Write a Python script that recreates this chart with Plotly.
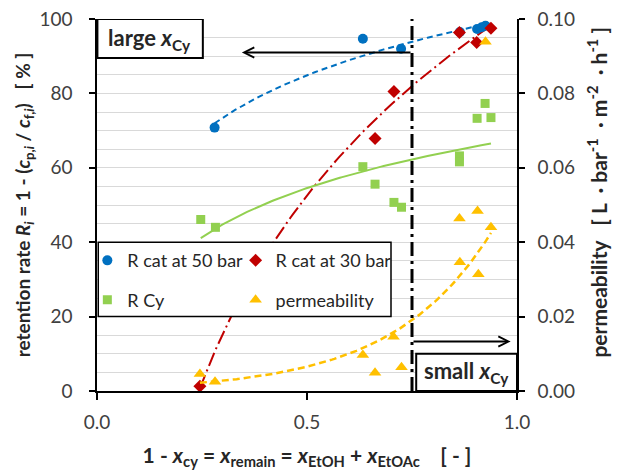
import numpy as np
import plotly.graph_objects as go

# ---- data ----
x_cat50 = [0.280, 0.633, 0.724, 0.864, 0.905, 0.916, 0.925]
R_cat50 = [70.8, 94.7, 92.0, 96.5, 97.3, 97.8, 98.2]

x_cat30 = [0.245, 0.662, 0.707, 0.863, 0.904, 0.938]
R_cat30 = [1.3, 67.9, 80.5, 96.4, 93.7, 97.5]

x_cy = [0.247, 0.282, 0.633, 0.662, 0.707, 0.725, 0.863, 0.863, 0.905, 0.924, 0.938]
R_cy = [46.1, 44.0, 60.3, 55.6, 50.7, 49.4, 63.2, 61.6, 73.3, 77.3, 73.5]

x_perm = [0.245, 0.281, 0.633, 0.662, 0.706, 0.725, 0.863, 0.864, 0.906, 0.908, 0.925, 0.938]
perm = [0.0046, 0.0025, 0.0097, 0.0049, 0.0146, 0.0064, 0.0464, 0.0346, 0.0484, 0.0314, 0.0939, 0.0440]

x_ticks = [0.0, 0.5, 1.0]
y_ticks = [0, 20, 40, 60, 80, 100]
y2_ticks = [0.00, 0.02, 0.04, 0.06, 0.08, 0.10]
x_split = 0.75

BLUE = "#0070C0"
RED = "#C00000"
GREEN = "#92D050"
YELLOW = "#FFC000"
FONT = "Lato"
TITLE_COLOR = "#262626"


def log_trend(xs, ys):
    b, a = np.polyfit(np.log(xs), ys, 1)
    xx = np.linspace(min(xs), max(xs), 120)
    return xx, a + b * np.log(xx)


def exp_trend(xs, ys):
    k, c = np.polyfit(np.array(xs), np.log(ys), 1)
    xx = np.linspace(min(xs), max(xs), 120)
    return xx, np.exp(c) * np.exp(k * xx)


fig = go.Figure()

# trendlines
tx, ty = log_trend(x_cat50, R_cat50)
fig.add_trace(go.Scatter(x=tx, y=ty, mode="lines", showlegend=False, hoverinfo="skip",
                         line=dict(color=BLUE, width=2, dash="6px,4px")))
tx, ty = log_trend(x_cat30, R_cat30)
fig.add_trace(go.Scatter(x=tx, y=ty, mode="lines", showlegend=False, hoverinfo="skip",
                         line=dict(color=RED, width=2, dash="14px,4px,2px,4px")))
tx, ty = log_trend(x_cy, R_cy)
fig.add_trace(go.Scatter(x=tx, y=ty, mode="lines", showlegend=False, hoverinfo="skip",
                         line=dict(color=GREEN, width=2)))
tx, ty = exp_trend(x_perm, perm)
fig.add_trace(go.Scatter(x=tx, y=ty, mode="lines", showlegend=False, hoverinfo="skip", yaxis="y2",
                         line=dict(color=YELLOW, width=2.5, dash="7px,4px")))

# markers (two legend columns, each item its own group for row spacing)
fig.add_trace(go.Scatter(x=x_cat50, y=R_cat50, mode="markers", name="R cat at 50 bar",
                         legend="legend", legendgroup="a",
                         marker=dict(symbol="circle", size=10, color=BLUE)))
fig.add_trace(go.Scatter(x=x_cat30, y=R_cat30, mode="markers", name="R cat at 30 bar",
                         legend="legend2", legendgroup="b",
                         marker=dict(symbol="diamond", size=10, color=RED)))
fig.add_trace(go.Scatter(x=x_cy, y=R_cy, mode="markers", name="R Cy",
                         legend="legend", legendgroup="c",
                         marker=dict(symbol="square", size=9, color=GREEN)))
fig.add_trace(go.Scatter(x=x_perm, y=perm, mode="markers", name="permeability",
                         legend="legend2", legendgroup="d", yaxis="y2",
                         marker=dict(symbol="triangle-up", size=11, color=YELLOW)))

shapes = [
    # vertical split line
    dict(type="line", xref="x", yref="y", x0=x_split, x1=x_split, y0=0, y1=100,
         line=dict(color="black", width=3, dash="14px,5px,3px,5px"), layer="above"),
    # legend frame
    dict(type="rect", xref="x", yref="y", x0=0.003, x1=0.700, y0=20, y1=40,
         line=dict(color="black", width=1.5), fillcolor="white", layer="above"),
    # large x box
    dict(type="rect", xref="x", yref="y", x0=0.001, x1=0.252, y0=89.5, y1=100,
         line=dict(color="black", width=2), fillcolor="white", layer="above"),
    # small x box
    dict(type="rect", xref="x", yref="y", x0=0.76, x1=1.0, y0=0, y1=10,
         line=dict(color="black", width=2), fillcolor="white", layer="above"),
]

annotations = [
    dict(x=0.126, y=94.7, xref="x", yref="y", showarrow=False,
         text="<b>large <i>x</i><sub>Cy</sub></b>", font=dict(family=FONT, size=22, color=TITLE_COLOR)),
    dict(x=0.88, y=5.0, xref="x", yref="y", showarrow=False,
         text="<b>small <i>x</i><sub>Cy</sub></b>", font=dict(family=FONT, size=22, color=TITLE_COLOR)),
    dict(x=0.345, y=91.0, ax=x_split, ay=91.0, xref="x", yref="y", axref="x", ayref="y",
         showarrow=True, arrowhead=5, arrowsize=1, arrowwidth=2, arrowcolor="black", text=""),
    dict(x=0.985, y=13.3, ax=x_split, ay=13.3, xref="x", yref="y", axref="x", ayref="y",
         showarrow=True, arrowhead=5, arrowsize=1, arrowwidth=2, arrowcolor="black", text=""),
]

NB = "\u00a0"
DOT = NB * 2 + "·" + NB
x_title = ("<b>1 - <i>x</i><sub>cy</sub>" + NB + "=" + NB + "<i>x</i><sub>remain</sub>" + NB + "=" + NB
           + "<i>x</i><sub>EtOH</sub>" + NB + "+" + NB + "<i>x</i><sub>EtOAc</sub>" + NB * 4 + "[" + NB + "-" + NB + "]</b>")
y_title = ("<b>retention rate <i>R<sub>i</sub></i> = 1 - (<i>c</i><sub>p,<i>i</i></sub> / <i>c</i><sub>f,<i>i</i></sub>)"
           + NB * 3 + "[" + NB + "%" + NB + "]</b>")
y2_title = ("<b>" + NB * 5 + "permeability" + NB * 3 + "[" + NB + "L" + DOT + "bar<sup>-1</sup>" + DOT
            + "m<sup>-2</sup>" + DOT + "h<sup>-1</sup>" + NB + "]</b>")

legend_common = dict(orientation="v", y=0.298, xanchor="left", yanchor="middle",
                     bgcolor="rgba(0,0,0,0)", borderwidth=0, itemsizing="trace",
                     tracegroupgap=13, traceorder="grouped",
                     font=dict(family=FONT, size=18, color=TITLE_COLOR))

fig.update_layout(
    width=617, height=470,
    margin=dict(l=97, r=100, t=19, b=79, autoexpand=False),
    paper_bgcolor="white", plot_bgcolor="white",
    font=dict(family=FONT, size=19, color="#404040"),
    shapes=shapes, annotations=annotations,
    xaxis=dict(range=[0, 1], tickvals=x_ticks, tickformat=".1f", showline=True, linecolor="black",
               linewidth=1.5, ticks="outside", ticklen=7, tickcolor="black", tickwidth=1.5,
               showgrid=False, zeroline=False, ticklabelstandoff=6,
               title=dict(text=x_title, font=dict(family=FONT, size=21, color=TITLE_COLOR), standoff=27)),
    yaxis=dict(range=[0, 100], tickvals=y_ticks, showline=True, linecolor="black", linewidth=1.5,
               ticks="outside", ticklen=6, tickcolor="black", tickwidth=1.5,
               showgrid=True, gridcolor="#d9d9d9", gridwidth=1, zeroline=False,
               minor=dict(dtick=5, showgrid=True, gridcolor="#d9d9d9", gridwidth=1),
               ticklabelstandoff=13,
               title=dict(text=y_title, font=dict(family=FONT, size=19, color=TITLE_COLOR), standoff=4)),
    yaxis2=dict(range=[0, 0.1], tickvals=y2_ticks, tickformat=".2f", overlaying="y", side="right",
                showline=True, linecolor="black", linewidth=1.5, ticks="outside", ticklen=6,
                tickcolor="black", tickwidth=1.5, showgrid=False, zeroline=False,
                ticklabelstandoff=9,
                title=dict(text=y2_title, font=dict(family=FONT, size=21, color=TITLE_COLOR), standoff=18)),
    legend=dict(x=-0.023, **legend_common),
    legend2=dict(x=0.33, **legend_common),
)

fig.write_html("out.html", config={"displayModeBar": False},
               post_script=["document.body.style.margin='0px';"])
